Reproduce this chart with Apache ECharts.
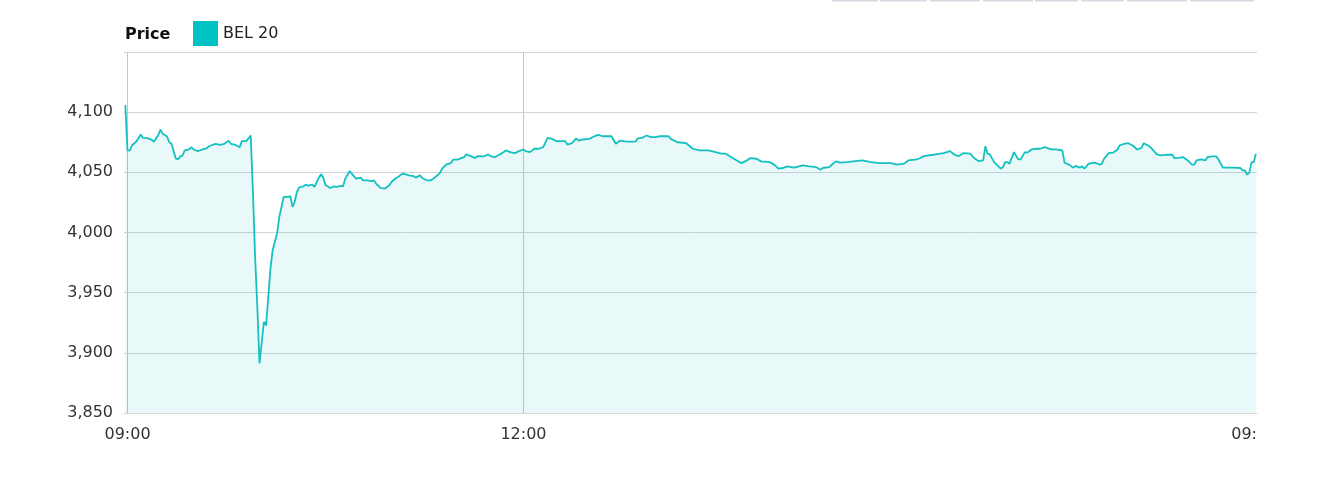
<!DOCTYPE html>
<html>
<head>
<meta charset="utf-8">
<script src="https://cdn.jsdelivr.net/npm/echarts@6/dist/echarts.min.js"></script>
<style>
html,body{margin:0;padding:0;background:#fff;}
#chart{width:1326px;height:485px;}
</style>
</head>
<body>
<div id="chart"></div>
<script>
// ---- data ----
const seriesName = 'BEL 20';
const times = [
 '08:59','09:00','09:01','09:02','09:04','09:06','09:07','09:09','09:10','09:11','09:12','09:14','09:15','09:16','09:18','09:19','09:20','09:22','09:23','09:24','09:25','09:26','09:28','09:29','09:30','09:32','09:34','09:36','09:37','09:40','09:42','09:44','09:46','09:47','09:49','09:51','09:52','09:54','09:56',
 '09:57','09:58','09:59','10:00','10:01','10:02','10:03','10:05','10:06','10:08','10:09','10:11','10:13','10:14','10:15','10:16','10:17','10:18','10:20','10:21','10:22','10:24','10:25','10:27','10:28','10:29','10:30','10:31','10:32','10:34','10:35','10:37','10:38','10:39','10:41','10:43','10:44','10:46','10:47','10:49','10:51','10:52','10:53','10:55','10:57','10:59','11:00','11:02','11:03','11:05','11:07','11:08','11:10','11:11','11:13','11:14','11:16','11:18','11:20','11:22','11:23','11:25','11:27','11:28','11:30','11:33','11:34','11:36','11:38','11:39','11:42','11:44','11:45','11:47','11:49','11:51','11:52','11:54','11:56','11:58',
 '12:00','12:01','12:03','12:05','12:07','12:09','12:11','12:13','12:15','12:17','12:19','12:20','12:22','12:24','12:25','12:27','12:30','12:32','12:34','12:36','12:40','12:42','12:44','12:47','12:51','12:52','12:54','12:56','12:58','13:00','13:02','13:06','13:07','13:10','13:14','13:17','13:20','13:24','13:26','13:30','13:32','13:34','13:37','13:39','13:41','13:43','13:46','13:48','13:52','13:54','13:56','13:58','14:00','14:03','14:04','14:07','14:10','14:13','14:15','14:16','14:19','14:22','14:24','14:27','14:31','14:34','14:38','14:42','14:47','14:50','14:53','14:55','14:58',
 '15:00','15:02','15:06','15:11','15:14','15:16','15:18','15:20','15:23','15:25','15:27','15:29','15:30','15:31','15:32','15:34','15:37','15:38','15:39','15:40','15:41','15:43','15:45','15:46','15:48','15:49','15:51','15:53','15:55','15:57','16:00','16:02','16:05','16:06','16:08','16:10','16:11','16:13','16:14','16:15','16:17','16:20','16:22','16:23','16:24','16:26','16:28','16:30','16:31','16:33','16:35','16:37','16:39','16:41','16:42','16:44','16:45','16:48','16:50','16:52','16:55','16:56','16:58','17:00','17:02','17:04','17:05','17:06','17:08','17:10','17:11','17:13','17:15','17:16','17:18','17:20','17:23','17:26','17:27','17:28','17:29','17:30','17:31','17:32','17:33'
];
const prices = [
 4106,4068.2,4068,4072.3,4075.6,4081.4,4078.7,4078.4,4077.8,4077,4075.4,4081,4085.5,4082,4079.8,4075,4073.7,4061.3,4061,4063.2,4064,4068.2,4069,4070.9,4069,4067.6,4069,4070,4071.7,4073.7,4072.9,4073.7,4076.2,4073.7,4072.9,4070.9,4075.9,4075.9,4080.6,
 4035,3980,3938.7,3891.3,3908.4,3925.8,3922.7,3970.4,3985.5,3999.3,4013,4029.6,4029.6,4030.2,4021.3,4025.5,4033.7,4037.4,4038.4,4039.8,4039,4039.8,4037.9,4045.6,4048.3,4045.6,4039.3,4038.4,4037,4038.4,4037.9,4038.7,4038.4,4044.8,4051.1,4046.7,4044.8,4045.6,4043.4,4043.4,4042.6,4043.4,4040.7,4037,4036.5,4039.3,4042,4045.3,4046.1,4048.9,4048.1,4047.5,4046.9,4045.6,4047.5,4045.3,4043.4,4043.4,4046.1,4049.4,4053,4056.6,4057.7,4060.5,4060.5,4062.6,4064.9,4063.5,4061.8,4063.5,4063.2,4064.9,4063.5,4062.6,4064.6,4066.8,4068.2,4066.8,4066,4067.6,
 4069,4067.6,4066.8,4069.6,4069.6,4070.9,4078.7,4077.8,4075.9,4075.9,4075.9,4073.1,4074.2,4078.3,4076.4,4077.3,4077.8,4079.8,4081.2,4080,4080,4073.7,4076.4,4075.6,4075.6,4078.3,4078.7,4080.6,4079.2,4079.2,4080,4080,4077.8,4075,4074.2,4069.6,4068.2,4068.2,4067.4,4065.5,4065.5,4063.2,4059.9,4057.7,4059.3,4061.8,4061.3,4059.1,4058.5,4056.4,4053,4053.6,4055,4053.9,4054.4,4055.8,4055,4054.4,4052.2,4053.6,4054.4,4059.1,4058,4058.5,4059.3,4059.9,4058.5,4057.7,4057.7,4056.4,4057.2,4059.9,4060.5,
 4061.5,4063.5,4064.6,4066,4067.6,4064.6,4063.5,4066,4065.5,4061.8,4059.3,4059.9,4071.7,4065.5,4064.9,4058.5,4053,4054.4,4058.5,4058.5,4057.2,4066.8,4060.7,4060.7,4066.8,4066.3,4069,4069.6,4069.6,4070.9,4069,4069,4068.2,4058,4056.4,4053.9,4055.3,4053.9,4055,4053,4057.2,4058,4056.4,4057.2,4061.3,4066,4066.3,4068.8,4072.3,4073.7,4074.2,4072.3,4069,4070.4,4074.2,4072.3,4070.9,4064.9,4064,4064.6,4064.6,4061.8,4062.1,4062.6,4059.9,4056.4,4056.4,4059.9,4060.7,4059.9,4062.6,4063.2,4063.2,4060.7,4053.9,4053.9,4053.9,4053.6,4051.7,4051.7,4048.1,4049.8,4058.5,4058.5,4065.5
];
const yTicks = [3850, 3900, 3950, 4000, 4050, 4100];
const xTickTimes = ['09:00', '12:00'];
const xEndLabel = '09:';

// ---- build ----
function toMin(t){ const p = t.split(':'); return (+p[0])*60 + (+p[1]) - 540; }
function fmtMin(m){ const t = m + 540; const h = Math.floor(t/60), mm = Math.round(t%60); return (h<10?'0':'')+h+':'+(mm<10?'0':'')+mm; }
const data = times.map((t,i)=>[toMin(t), prices[i]]);
const xMin = -1.6, xMax = 513.5;
const xTickVals = xTickTimes.map(toMin);

const font = 'DejaVu Sans';
const chart = echarts.init(document.getElementById('chart'), null, {renderer:'canvas'});
chart.setOption({
  animation: false,
  backgroundColor: '#fff',
  textStyle: {fontFamily: font},
  title: {
    text: 'Price', left: 125, top: 27, padding: 0,
    textStyle: {fontFamily: font, fontSize: 16, fontWeight: 'bold', color: '#111'}
  },
  legend: {
    left: 193, top: 21, padding: 0,
    itemWidth: 25, itemHeight: 25, itemGap: 10,
    icon: 'rect',
    textStyle: {fontFamily: font, fontSize: 16, color: '#222'},
    data: [{name: seriesName, itemStyle: {color: '#00c2c2'}}]
  },
  grid: {left: 124, right: 69, top: 52, bottom: 72, containLabel: false},
  xAxis: {
    type: 'value', min: xMin, max: xMax,
    axisLine: {show: true, lineStyle: {color: '#d8d8d8', width: 1}},
    axisTick: {show: false, customValues: xTickVals},
    splitLine: {show: true, lineStyle: {color: '#c6c6c6', width: 1}},
    axisLabel: {
      customValues: xTickVals.concat([xMax]),
      alignMaxLabel: 'right',
      formatter: v => (v === xMax ? xEndLabel : fmtMin(v)),
      color: '#333', fontFamily: font, fontSize: 16, margin: 14
    }
  },
  yAxis: {
    type: 'value', min: 3850, max: 4150, interval: 50,
    axisLine: {show: false}, axisTick: {show: false},
    splitLine: {show: true, lineStyle: {color: '#d4d4d4', width: 1}},
    axisLabel: {
      showMaxLabel: false,
      formatter: v => (yTicks.indexOf(v) >= 0 ? v.toLocaleString('en-US') : ''),
      color: '#333', fontFamily: font, fontSize: 16, margin: 11
    }
  },
  series: [{
    name: seriesName, type: 'line', data: data,
    showSymbol: false, symbol: 'none',
    lineStyle: {color: '#14c0c0', width: 1.8},
    itemStyle: {color: '#00c2c2'},
    areaStyle: {color: 'rgba(0,185,185,0.12)', origin: 'start'}
  }],
  graphic: [
    {type:'rect', shape:{x:832,y:0,width:46,height:1.5}, style:{fill:'#d3dbe3'}},
    {type:'rect', shape:{x:880,y:0,width:47,height:1.5}, style:{fill:'#d3dbe3'}},
    {type:'rect', shape:{x:930,y:0,width:50,height:1.5}, style:{fill:'#d3dbe3'}},
    {type:'rect', shape:{x:983,y:0,width:50,height:1.5}, style:{fill:'#d3dbe3'}},
    {type:'rect', shape:{x:1035,y:0,width:43,height:1.5}, style:{fill:'#d3dbe3'}},
    {type:'rect', shape:{x:1081,y:0,width:43,height:1.5}, style:{fill:'#d3dbe3'}},
    {type:'rect', shape:{x:1127,y:0,width:60,height:1.5}, style:{fill:'#d3dbe3'}},
    {type:'rect', shape:{x:1190,y:0,width:64,height:1.5}, style:{fill:'#d3dbe3'}}
  ]
});
</script>
</body>
</html>
